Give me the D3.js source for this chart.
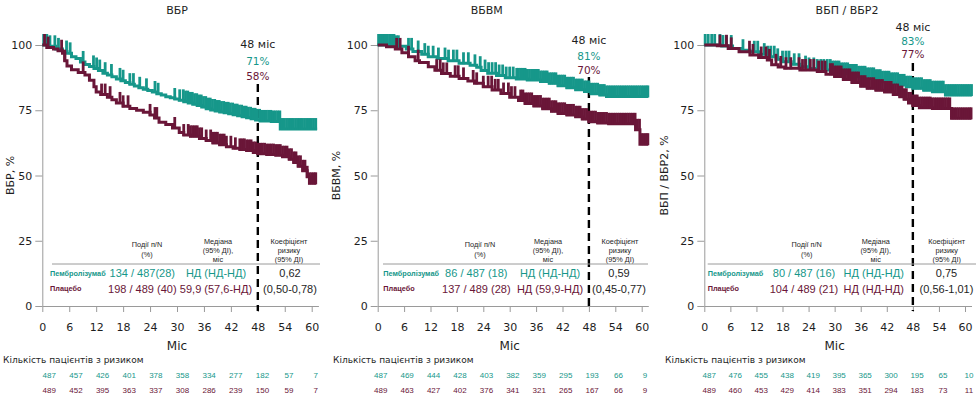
<!DOCTYPE html>
<html><head><meta charset="utf-8">
<script src="https://cdn.jsdelivr.net/npm/d3@7"></script>
<style>body{margin:0;background:#fff}svg{display:block}</style>
</head><body><svg id="c" width="976" height="397"></svg>
<script>
const TEAL = "#16978a", PLUM = "#6a1638", INK = "#1e1e1e", AXIS = "#9a9a9a";

const months = [0,6,12,18,24,30,36,42,48,54,60];
const yTicks = [0,25,50,75,100];
const titles = ["ВБР","ВБВМ","ВБП / ВБР2"];
const yTitles = ["ВБР, %","ВБВМ, %","ВБП / ВБР2, %"];
const armNames = ["Пембролізумаб","Плацебо"];
const pct48Pembro = ["71%","81%","83%"];
const pct48Placebo = ["58%","70%","77%"];
const eventsPembro = ["134 / 487(28)","86 / 487 (18)","80 / 487 (16)"];
const eventsPlacebo = ["198 / 489 (40)","137 / 489 (28)","104 / 489 (21)"];
const medianPembro = ["НД (НД-НД)","НД (НД-НД)","НД (НД-НД)"];
const medianPlacebo = ["59,9 (57,6-НД)","НД (59,9-НД)","НД (НД-НД)"];
const hrValue = ["0,62","0,59","0,75"];
const hrCI = ["(0,50-0,78)","(0,45-0,77)","(0,56-1,01)"];
const atRiskPembro = [
  [487,457,426,401,378,358,334,277,182,57,7],
  [487,469,444,428,403,382,359,295,193,66,9],
  [487,476,455,438,419,395,365,300,195,65,10]
];
const atRiskPlacebo = [
  [489,452,395,363,337,308,286,239,150,59,7],
  [489,463,427,402,376,341,321,265,167,66,9],
  [489,460,453,429,414,383,351,294,183,73,11]
];

// Kaplan-Meier steps [month, %]
const pfsPembro = [[0,100],[1.5,99.5],[3,98.5],[4.5,97.5],[5.5,96.8],[6.5,95.5],[7.5,94.8],[8.5,93.5],[9.5,92.5],[10.5,91.8],[11.5,91],[12.5,90.2],[13.5,89.2],[14.5,88.5],[15.5,87.8],[16.5,87],[17.5,86.3],[18.5,85.6],[19.5,85],[20.5,84.3],[21.5,83.6],[22.5,83],[23.5,82.6],[24.5,82],[25.5,81.3],[26.5,80.8],[27.5,80.2],[28.5,79.8],[29.5,79.3],[30.5,78.8],[31.5,78.3],[32.5,77.8],[33.5,77.3],[34.5,76.8],[35.5,76.2],[36.5,75.6],[37.5,75.1],[38.5,74.7],[39.5,74.3],[40.5,74],[41.5,73.7],[42.5,73.3],[43.5,72.9],[44.5,72.5],[45.5,72.1],[46.5,71.7],[47.5,71.3],[48.5,70.9],[51,70.7],[53,67.8],[61.2,67.8]];
const pfsPlacebo = [[0,100],[1,99],[2.5,98.5],[3.5,97.8],[4.5,96.8],[5,94],[5.5,92],[6.5,90.5],[8,89.5],[9.5,88.5],[10.5,86.5],[11.5,84],[12,82],[13,81],[14.5,80],[15.5,79],[16.5,77.8],[18,76.5],[19.5,75.7],[21,75],[22.5,74.2],[24,73.2],[25,72],[26,70.4],[27.5,69.5],[29,68.2],[30.5,66.5],[31.5,65.5],[33,65],[35,64.2],[36.5,63.4],[38,62.5],[39.5,61.8],[41,61],[42.5,60.4],[44,60],[45.5,59.6],[47,58.8],[48,58.3],[50,58],[52,57.8],[53.5,57.2],[55,56.2],[56,55],[57,53.5],[58,51.8],[59,49.5],[59.5,47],[61,47]];
const osPembro = [[0,100],[4,99.5],[6.5,98.5],[8,97.5],[10,96.5],[11.5,95.5],[13.5,94.8],[16,94],[18.5,93],[21,92.2],[22.5,91.5],[23.5,90.2],[25,89.2],[27,88.3],[29,87.5],[31.5,87],[34,86.6],[37,86],[39,85.3],[41,84.4],[43,83.6],[45,82.9],[47,82.2],[48.5,81.3],[50.5,80.8],[52,80.3],[61.5,80.3]];
const osPlacebo = [[0,100],[2,99.3],[4,98.5],[5.5,97],[7,95.5],[8.5,94],[9.5,93.3],[11.5,91.7],[13,90.3],[14.5,89.1],[16.5,88],[18.5,87.2],[20.5,86.2],[22,85.3],[24,84],[26,82.8],[28,81.4],[30,80],[32,78.7],[33.5,77.6],[35.5,76.6],[37.5,75.6],[39.5,74.6],[41,73.8],[43,73.2],[45,72.5],[46.5,71.6],[48,70.6],[50,70.1],[52.5,69.8],[58.6,67.5],[59.6,62],[61.5,62]];
const pfs2Pembro = [[0,100],[4,99.6],[6.5,98.7],[8.5,98],[10.5,97.4],[12.5,96.5],[14.5,95.5],[16.5,94.5],[18,93.6],[20,92.6],[22,91.7],[24,91],[26,90.4],[29.5,89.8],[31.5,89.1],[33.5,88.5],[35.5,87.8],[37.5,87.2],[39.5,86.5],[41,85.9],[43,85.3],[45,84.7],[46.5,84],[48,83.4],[50.5,82.7],[52.5,82.1],[55.5,80.8],[61.6,80.8]];
const pfs2Placebo = [[0,100],[3,99.7],[5.5,98.7],[8,97.4],[10.5,96.2],[12.5,95.2],[14.5,94.3],[15.5,92.4],[17,91.6],[18.5,91.1],[22,90.4],[26,89.8],[28,88.8],[30,87.9],[32,86.8],[34,85.6],[36,84.2],[37.5,83.4],[39.5,82.7],[41.5,82],[43.5,81],[45,80.2],[46,79.2],[47,77.8],[48,76.8],[49.5,76],[52.5,75.7],[56.9,71.9],[61.5,71.9]];

// censoring times (months)
const pfsPembroCens = [0.3,1,1.7,2.8,3.6,5.4,6.2,9.1,11.4,12.1,12.8,14,15.4,17.3,18,19.5,20.3,21.7,23.2,25.1,25.8,29.5,30.6,31.4,31.9,32.4,32.9,33.4,33.9,34.4,34.9,35.4,35.9,36.4,36.9,37.4,37.9,38.4,38.9,39.4,39.9,40.4,40.9,41.4,41.9,42.4,42.9,43.4,43.9,44.4,44.9,45.4,45.9,46.4,46.9,47.4,47.9,48.4,48.9,49.4,49.9,50.4,50.9,51.4,51.9,52.4,52.9,53.4,53.9,54.4,54.9,55.4,55.9,56.4,56.9,57.4,57.9,58.4,58.9,59.4,59.9,60.4,60.9];
const pfsPlaceboCens = [0.5,1.3,4.3,5,9.1,13.2,14,15.1,17.3,18,19.1,24,25.1,25.5,29.5,31.5,32.5,33,33.5,34,34.5,35,35.5,36.5,37.5,38,38.5,39,39.5,40,40.5,41,42,43,44,44.5,45,45.5,46,46.5,47,47.5,48,48.5,49,49.5,50,50.5,51,51.5,52,52.5,53,53.5,54,54.5,55,55.5,56,56.5,57,57.5,58,58.5,59,59.5,60,60.5,60.9];
const osPembroCens = [0.2,0.7,1.2,1.7,2.2,2.7,3.2,3.7,4.2,4.7,7,7.7,9.2,10.7,11.5,12.6,13.8,15.3,16.1,17.2,18,19.5,20.6,22.1,23.3,24.4,25.2,26,26.8,27.6,28.4,29.2,30,30.8,31.6,32,32.5,33,33.5,34,34.5,35,35.5,36,36.5,37,37.5,38,38.5,39,39.5,40,40.5,41,41.5,42,42.5,43,43.5,44,44.5,45,45.5,46,46.5,47,47.5,48,48.5,49,49.5,50,50.5,51,51.5,52,52.5,53,53.5,54,54.5,55,55.5,56,56.5,57,57.5,58,58.5,59,59.5,60,60.5,61,61.4];
const osPlaceboCens = [4.3,5.1,7,9.2,13.4,14.2,14.9,15.7,17.6,18.3,19.5,21.7,22.5,24,25.1,25.9,26.7,27.4,28.6,29.7,30.4,31.2,32.5,33,33.5,34,34.5,35,35.5,36,36.5,37,37.5,38,38.5,39,39.5,40,40.5,41,41.5,42,42.5,43,43.5,44,44.5,45,45.5,46,46.5,47,47.5,48,48.5,49,49.5,50,50.5,51,51.5,52,52.5,53,53.5,54,54.5,55,55.5,56,56.5,57,57.5,58,58.5,59,59.5,60,60.5,61,61.4];
const pfs2PembroCens = [0.2,0.9,1.7,2.4,3.6,4.3,5.1,6.2,8.9,11.5,12.3,13.8,14.6,15.3,16.1,16.9,18,18.8,19.5,20.7,21.8,23.3,24.1,25.2,26,26.8,27.5,28.3,29,29.5,30,30.5,31,31.5,32,32.5,33,33.5,34,34.5,35,35.5,36,36.5,37,37.5,38,38.5,39,39.5,40,40.5,41,41.5,42,42.5,43,43.5,44,44.5,45,45.5,46,46.5,47,47.5,48,48.5,49,49.5,50,50.5,51,51.5,52,52.5,53,53.5,54,54.5,55,55.5,56,56.5,57,57.5,58,58.5,59,59.5,60,60.5,61,61.5];
const pfs2PlaceboCens = [3.6,5.1,6.2,10.4,11.2,13.1,14.2,15,16.5,17.6,18.8,19.9,21.8,22.6,23.3,24.4,25.2,26.3,27.1,27.8,29,29.5,30,30.5,31,31.5,32,32.5,33,33.5,34,34.5,35,35.5,36,36.5,37,37.5,38,38.5,39,39.5,40,40.5,41,41.5,42,42.5,43,43.5,44,44.5,45,45.5,46,46.5,47,47.5,48,48.5,49,49.5,50,50.5,51,51.5,52,52.5,53,53.5,54,54.5,55,55.5,56,56.5,57,57.5,58,58.5,59,59.5,60,60.5,61,61.4];

const curvesPembro = [pfsPembro, osPembro, pfs2Pembro];
const curvesPlacebo = [pfsPlacebo, osPlacebo, pfs2Placebo];
const censPembro = [pfsPembroCens, osPembroCens, pfs2PembroCens];
const censPlacebo = [pfsPlaceboCens, osPlaceboCens, pfs2PlaceboCens];

// layout (pixels)
const layout = [
  {x0:42.3, x60:311.7, titleX:177, yTitleX:10, dashTop:84, lblY:[44,61,76], kX:3,
   rowX:50, evX:142.3, medX:216, hrX:290, hEvX:147, hMedX:218, hHrX:289, ruleX:[52,320], ar:[49.3,315.7]},
  {x0:377.7, x60:641.7, titleX:486.7, yTitleX:336, dashTop:77, lblY:[40,56,70], kX:333,
   rowX:383.3, evX:476.3, medX:550, hrX:619, hEvX:480, hMedX:548, hHrX:620, ruleX:[383,648], ar:[380.7,645]},
  {x0:704.3, x60:965, titleX:847, yTitleX:664, dashTop:63, lblY:[27,41,54], kX:665,
   rowX:707.7, evX:804, medX:873.7, hrX:946.5, hEvX:806.7, hMedX:875.7, hHrX:946.7, ruleX:[707.7,976], ar:[709.3,969]}
];

const svg = d3.select("#c");
const y = d3.scaleLinear().domain([0,100]).range([306,45]);
const SANS = "DejaVu Sans, Verdana, sans-serif";
const ARIAL = "Liberation Sans, Arial, sans-serif";
const NARROW = "'Liberation Sans Narrow', 'Liberation Sans', Arial, sans-serif";

function survAt(steps, t){
  let v = steps[0][1];
  for (const s of steps){ if (s[0] <= t) v = s[1]; else break; }
  return v;
}
function txt(g, x, yy, s, opt){
  const t = g.append("text").attr("x", x).attr("y", yy).text(s)
    .attr("font-family", opt.f || SANS).attr("font-size", opt.s || 11)
    .attr("fill", opt.c || INK).attr("text-anchor", opt.a || "middle")
    .attr("dominant-baseline", "central");
  if (opt.w) t.attr("font-weight", opt.w);
  return t;
}

layout.forEach((p, i) => {
  const g = svg.append("g");
  const x = d3.scaleLinear().domain([0,60]).range([p.x0, p.x60]);
  const xAx = d3.scaleLinear().domain([0,61.5]).range([p.x0, x(61.5)]);

  // axes
  const gx = g.append("g").attr("transform", `translate(0,${y(0)})`)
    .call(d3.axisBottom(xAx).tickValues(months).tickSize(6).tickSizeOuter(0).tickPadding(11));
  const gy = g.append("g").attr("transform", `translate(${p.x0},0)`)
    .call(d3.axisLeft(y).tickValues(yTicks).tickSize(7).tickSizeOuter(0).tickPadding(3));
  [gx, gy].forEach(a => {
    a.selectAll("path,line").attr("stroke", AXIS).attr("stroke-width", 1);
    a.selectAll("text").attr("font-family", SANS).attr("font-size", 11).attr("fill", INK);
  });

  // titles
  txt(g, p.titleX, 10, titles[i], {s:11});
  txt(g, (p.x0 + p.x60) / 2, 346, "Міс", {s:12});
  g.append("text").attr("transform", `translate(${p.yTitleX},${(y(0)+y(100))/2}) rotate(-90)`)
    .attr("text-anchor","middle").attr("dominant-baseline","central")
    .attr("font-family", SANS).attr("font-size", 11).attr("fill", INK).text(yTitles[i]);

  // 48-month marker
  g.append("line").attr("x1", x(48)).attr("x2", x(48)).attr("y1", p.dashTop).attr("y2", 311)
    .attr("stroke", "#000").attr("stroke-width", 2.4).attr("stroke-dasharray", "8,5");
  txt(g, x(48), p.lblY[0], "48 міс", {s:11});
  txt(g, x(48), p.lblY[1], pct48Pembro[i], {s:10.5, c:TEAL});
  txt(g, x(48), p.lblY[2], pct48Placebo[i], {s:10.5, c:PLUM});

  // curves
  const line = d3.line().x(d => x(d[0])).y(d => y(d[1])).curve(d3.curveStepAfter);
  [[curvesPembro[i], censPembro[i], TEAL], [curvesPlacebo[i], censPlacebo[i], PLUM]].forEach(([steps, cens, col]) => {
    g.append("path").attr("d", line(steps)).attr("fill", "none").attr("stroke", col).attr("stroke-width", 3);
    g.append("g").selectAll("line").data(cens).join("line")
      .attr("x1", d => x(d)).attr("x2", d => x(d))
      .attr("y1", d => y(survAt(steps, d)) + 1).attr("y2", d => y(survAt(steps, d)) - 11)
      .attr("stroke", col).attr("stroke-width", 2.8);
  });

  // table
  const hs = 7.3;
  txt(g, p.hEvX, 244, "Події  п/N", {f:ARIAL, s:hs});
  txt(g, p.hEvX, 254, "(%)", {f:ARIAL, s:hs});
  ["Медіана","(95% ДІ),","міс"].forEach((s,k) => txt(g, p.hMedX, 241 + k*9, s, {f:ARIAL, s:hs}));
  ["Коефіцієнт","ризику","(95% ДІ)"].forEach((s,k) => txt(g, p.hHrX, 241 + k*9, s, {f:ARIAL, s:hs}));
  g.append("line").attr("x1", p.ruleX[0]).attr("x2", p.ruleX[1]).attr("y1", 264).attr("y2", 264)
    .attr("stroke", AXIS).attr("stroke-width", 1);
  txt(g, p.rowX, 273, armNames[0], {f:ARIAL, s:7.3, w:"bold", c:TEAL, a:"start"});
  txt(g, p.rowX, 288.5, armNames[1], {f:ARIAL, s:7.3, w:"bold", c:PLUM, a:"start"});
  const vs = 11;
  txt(g, p.evX, 273, eventsPembro[i], {f:ARIAL, s:vs, c:TEAL});
  txt(g, p.evX, 288.5, eventsPlacebo[i], {f:ARIAL, s:vs, c:PLUM});
  txt(g, p.medX, 273, medianPembro[i], {f:ARIAL, s:vs, c:TEAL});
  txt(g, p.medX, 288.5, medianPlacebo[i], {f:ARIAL, s:vs, c:PLUM});
  txt(g, p.hrX, 273, hrValue[i], {f:ARIAL, s:vs});
  txt(g, p.hrX, 288.5, hrCI[i], {f:ARIAL, s:vs});

  // number at risk
  txt(g, p.kX, 360, "Кількість пацієнтів з ризиком", {s:9, a:"start"});
  const ar = d3.scaleLinear().domain([0,60]).range(p.ar);
  months.forEach((m, j) => {
    txt(g, ar(m), 375, atRiskPembro[i][j], {f:NARROW, s:8, c:TEAL});
    txt(g, ar(m), 390.5, atRiskPlacebo[i][j], {f:NARROW, s:8, c:PLUM});
  });
});
</script></body></html>
